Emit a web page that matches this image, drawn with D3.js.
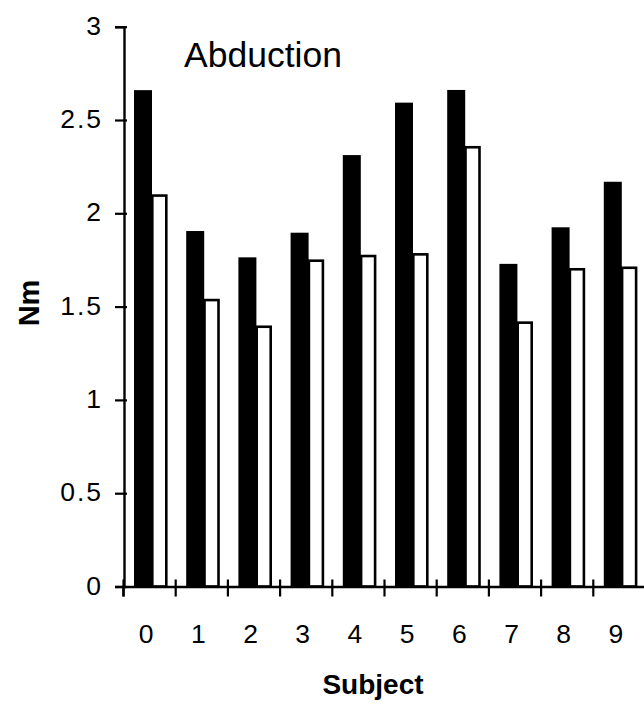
<!DOCTYPE html>
<html>
<head>
<meta charset="utf-8">
<script src="https://cdn.jsdelivr.net/npm/d3@7"></script>
<style>
  html, body { margin: 0; padding: 0; background: #fff; }
  svg { display: block; }
  text { font-family: "Liberation Sans", Arial, Helvetica, sans-serif; fill: #000; }
</style>
</head>
<body>
<svg id="chart" width="644" height="705"></svg>
<script>
const subjects = ["0","1","2","3","4","5","6","7","8","9"];
const seriesA = [2.66, 1.905, 1.764, 1.896, 2.312, 2.593, 2.661, 1.729, 1.925, 2.169]; // black
const seriesB = [2.095, 1.535, 1.392, 1.746, 1.771, 1.780, 2.354, 1.414, 1.700, 1.708]; // white
const yTicks = [0, 0.5, 1, 1.5, 2, 2.5, 3];
const yTickLabels = ["0", "0.5", "1", "1.5", "2", "2.5", "3"];
const title = "Abduction";
const xTitle = "Subject";
const yTitle = "Nm";

const svg = d3.select("#chart");
const x0 = 123, x1 = 645, yBase = 586.5, yTop = 26.7;

const x = d3.scaleBand().domain(subjects).range([x0, x1]).paddingInner(0).paddingOuter(0);
const xBound = d3.scaleLinear().domain([0, subjects.length]).range([x0, x1]);
const sub = d3.scaleBand().domain(["A","B"]).range([11, 45]).padding(0);
const y = d3.scaleLinear().domain([0, 3]).range([yBase, yTop]);

// bars
const g = svg.append("g");
subjects.forEach((s, i) => {
  g.append("rect")
    .attr("x", x(s) + sub("A"))
    .attr("y", y(seriesA[i]))
    .attr("width", sub.bandwidth() + 1)
    .attr("height", yBase - y(seriesA[i]))
    .attr("fill", "#000");
  g.append("rect")
    .attr("x", x(s) + sub("B") + 1.3)
    .attr("y", y(seriesB[i]))
    .attr("width", sub.bandwidth() - 3)
    .attr("height", yBase - y(seriesB[i]))
    .attr("fill", "#fff")
    .attr("stroke", "#000")
    .attr("stroke-width", 2.6);
});

// y axis
const yAxis = svg.append("g")
  .attr("transform", `translate(${x0 + 1},0)`)
  .call(d3.axisLeft(y).tickValues(yTicks).tickFormat((d, i) => yTickLabels[i]).tickSizeOuter(0).tickSize(9).tickPadding(12));
yAxis.select(".domain").attr("stroke", "#000").attr("stroke-width", 2.4);
yAxis.selectAll(".tick line").attr("x1", 3).attr("stroke", "#000").attr("stroke-width", 2.2);
yAxis.selectAll(".tick text")
  .attr("font-size", 26.5)
  .attr("letter-spacing", "2px")
  .attr("font-family", "Liberation Sans, Arial, sans-serif")
  .attr("dy", "0.29em");

// x axis ticks at band boundaries
const xAxis = svg.append("g")
  .attr("transform", `translate(0,${yBase})`)
  .call(d3.axisBottom(xBound).tickValues(d3.range(0, subjects.length + 1)).tickFormat("").tickSizeOuter(0).tickSize(10));
xAxis.select(".domain").attr("stroke", "#000").attr("stroke-width", 2.4);
xAxis.selectAll(".tick line").attr("y1", -7).attr("stroke", "#000").attr("stroke-width", 2.2);

// x labels
const xLab = svg.append("g")
  .attr("transform", `translate(-3,${yBase})`)
  .call(d3.axisBottom(x).tickSize(0).tickPadding(38));
xLab.select(".domain").remove();
xLab.selectAll(".tick text")
  .attr("font-size", 26.5)
  .attr("font-family", "Liberation Sans, Arial, sans-serif");

// titles
svg.append("text")
  .attr("x", 184).attr("y", 67)
  .attr("font-size", 35.5)
  .text(title);

svg.append("text")
  .attr("x", 373).attr("y", 694)
  .attr("text-anchor", "middle")
  .attr("font-size", 28)
  .attr("font-weight", "bold")
  .text(xTitle);

svg.append("text")
  .attr("transform", "translate(39,303) rotate(-90)")
  .attr("text-anchor", "middle")
  .attr("font-size", 29)
  .attr("font-weight", "bold")
  .text(yTitle);
</script>
</body>
</html>
